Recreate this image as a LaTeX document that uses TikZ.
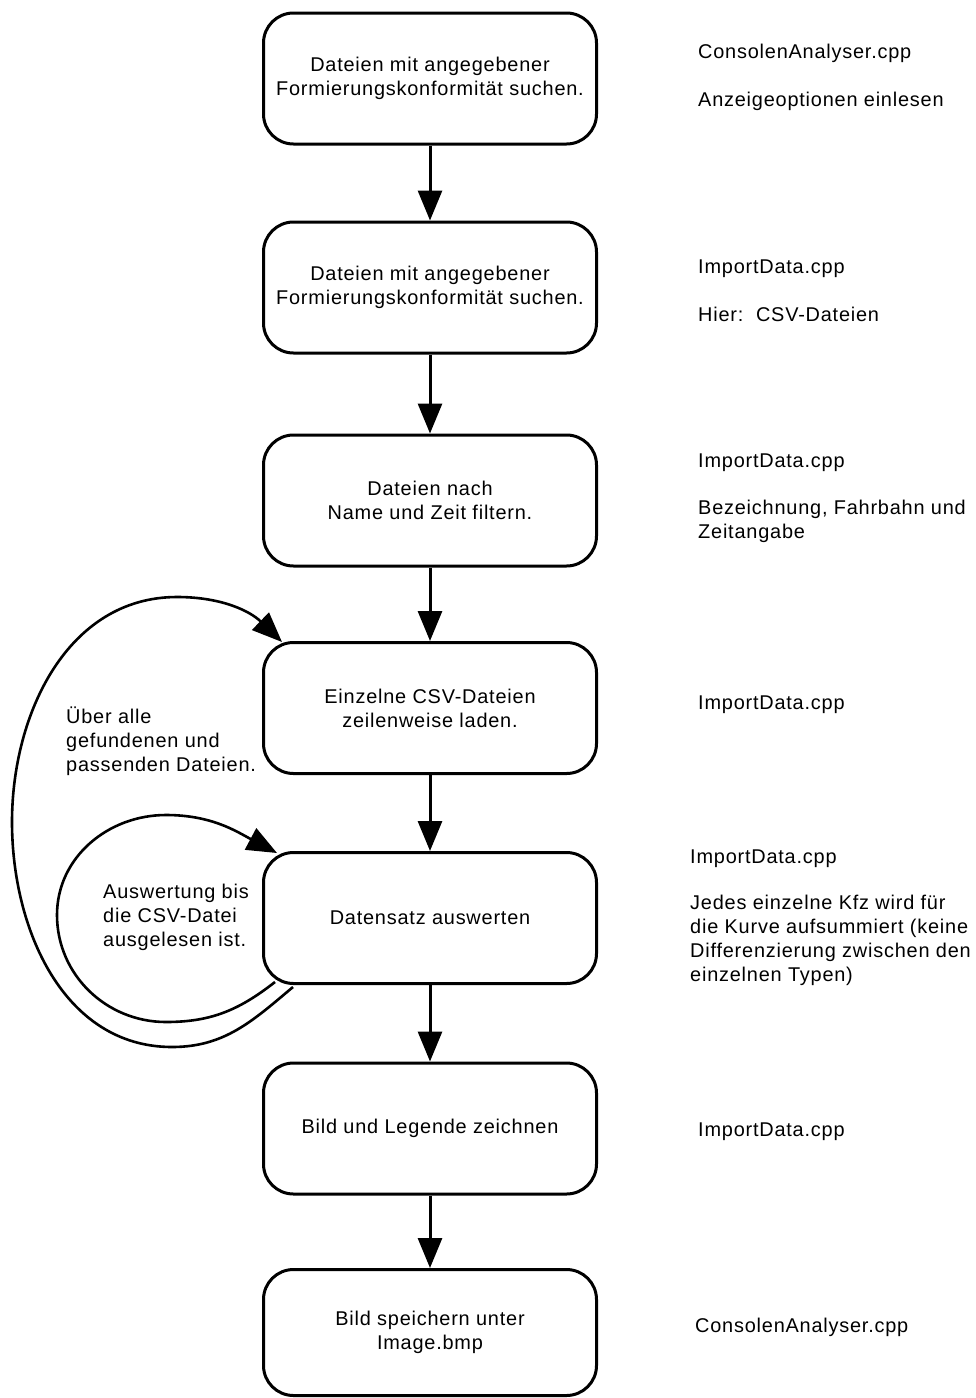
\documentclass[tikz,border=0pt]{standalone}
\usepackage{fontspec}
\setmainfont{Liberation Sans}[LetterSpace=4]
\usetikzlibrary{arrows.meta}

\begin{document}
\begin{tikzpicture}[
  x=1pt, y=1pt,
  every node/.style={font=\fontsize{19.9}{24}\selectfont, inner sep=0pt},
  stepbox/.style={draw, line width=3pt, rounded corners=30pt,
    minimum width=333pt, minimum height=131pt, align=center},
  flow/.style={line width=3pt, -{Triangle[length=30pt,width=24pt]}},
  loopline/.style={line width=2.6pt, -{Triangle[length=30pt,width=24pt]}},
  note/.style={anchor=west, align=left},
]
\useasboundingbox (0,0) rectangle (975,-1398);

% process steps
\node[stepbox] (b1) at (430,-78.5)  {Dateien mit angegebener\\Formierungskonformität suchen.};
\node[stepbox] (b2) at (430,-287.5) {Dateien mit angegebener\\Formierungskonformität suchen.};
\node[stepbox] (b3) at (430,-500.5) {Dateien nach\\Name und Zeit filtern.};
\node[stepbox] (b4) at (430,-708)   {Einzelne CSV-Dateien\\zeilenweise laden.};
\node[stepbox] (b5) at (430,-918)   {Datensatz auswerten};
\node[stepbox] (b6) at (430,-1128.5){Bild und Legende zeichnen};
\node[stepbox, minimum height=126pt] (b7) at (430,-1332.5) {Bild speichern unter\\Image.bmp};

% main flow
\draw[flow] (b1.south) -- (b2.north);
\draw[flow] (b2.south) -- (b3.north);
\draw[flow] (b3.south) -- (b4.north);
\draw[flow] (b4.south) -- (b5.north);
\draw[flow] (b5.south) -- (b6.north);
\draw[flow] (b6.south) -- (b7.north);

% loop end points on the rounded corners
\coordinate (oStart) at ([xshift=31pt,yshift=-2pt]b5.south west);
\coordinate (oEnd)   at ([xshift=20pt,yshift=-1pt]b4.north west);
\coordinate (iStart) at ([xshift=13pt,yshift=3pt]b5.south west);
\coordinate (iEnd)   at ([xshift=15pt,yshift=-2pt]b5.north west);

% outer loop: over all files
\draw[loopline] (oStart) to[out=-140,in=0] (172,-1047)
  to[out=180,in=-90] (12,-822)
  to[out=90,in=180] (177,-597)
  to[out=0,in=136] (oEnd);

% inner loop: over all records
\draw[loopline] (iStart) to[out=-142,in=0] (166,-1022)
  to[out=180,in=-90] (57,-915)
  to[out=90,in=180] (166,-815)
  to[out=0,in=152] (iEnd);

% loop labels
\node[note] (lo) at (66,-741) {Über alle\\gefundenen und\\passenden Dateien.};
\node[note] (li) at (103,-917) {Auswertung bis\\die CSV-Datei\\ausgelesen ist.};

% source file notes
\node[note] (r1a) at (698,-53)  {ConsolenAnalyser.cpp};
\node[note] (r1b) at (698,-101) {Anzeigeoptionen einlesen};
\node[note] (r2a) at (698,-269) {ImportData.cpp};
\node[note] (r2b) at (698,-314) {Hier:\ \ CSV-Dateien};
\node[note] (r3a) at (698,-463) {ImportData.cpp};
\node[note] (r3b) at (698,-521) {Bezeichnung, Fahrbahn und\\Zeitangabe};
\node[note] (r4)  at (698,-705) {ImportData.cpp};
\node[note] (r5a) at (690,-859) {ImportData.cpp};
\node[note] (r5b) at (690,-940) {Jedes einzelne Kfz wird für\\die Kurve aufsummiert (keine\\Differenzierung zwischen den\\einzelnen Typen)};
\node[note] (r6)  at (698,-1132) {ImportData.cpp};
\node[note] (r7)  at (695,-1327) {ConsolenAnalyser.cpp};
\end{tikzpicture}
\end{document}
